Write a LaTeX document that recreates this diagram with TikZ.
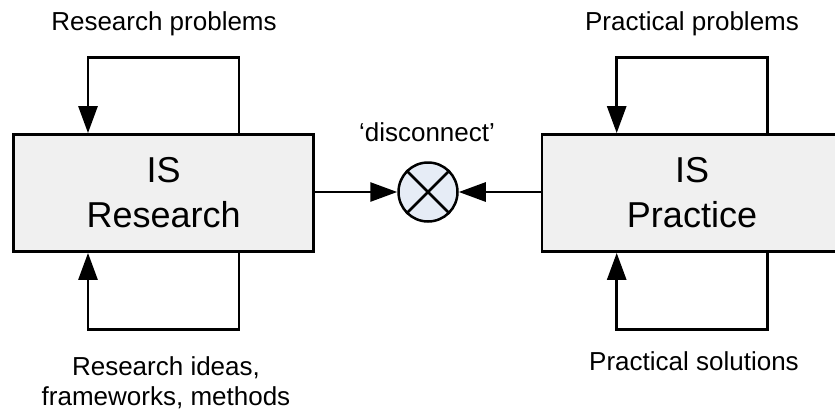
\documentclass[tikz,border=0pt]{standalone}
\usepackage{fontspec}
\setmainfont{Liberation Sans}
\usetikzlibrary{arrows.meta,calc}
\definecolor{boxfill}{HTML}{F0F0F0}
\definecolor{circfill}{HTML}{E6ECF6}
\tikzset{
  isbox/.style={draw=black, fill=boxfill, line width=2.8pt, minimum width=300pt, minimum height=117pt,
    inner sep=0pt, align=center, font=\fontsize{36}{45}\selectfont},
  lbl/.style={inner sep=0pt, anchor=base, font=\fontsize{26}{30}\selectfont},
  conn/.style={line width=2.8pt, line join=miter, -{Triangle[length=27pt,width=19pt]}},
  xcirc/.style={circle, draw=black, fill=circfill, line width=2.5pt, minimum size=59pt, inner sep=0pt},
}
\begin{document}
\begin{tikzpicture}[x=1pt,y=-1pt]
\useasboundingbox (0,0) rectangle (835,410);
\begin{scope}
\clip (0,0) rectangle (835,410);
\node[isbox] (L) at (163.7,193) {IS\\Research};
\node[isbox] (R) at (692,193) {IS\\Practice};
\node[xcirc] (C) at (428,192) {};
\draw[line width=2.5pt] (C.45) -- (C.225) (C.135) -- (C.315);

\coordinate (Ltop) at ($(L.north)+(-75.7,-75.5)$);
\coordinate (Lbot) at ($(L.south)+(-75.7,76.5)$);
\coordinate (Rtop) at ($(R.north)+(-75.3,-75.5)$);
\coordinate (Rbot) at ($(R.south)+(-75.3,76.5)$);

\draw[conn] ($(L.north)+(75.3,0)$) |- (Ltop) -- (L.north -| Ltop);
\draw[conn] ($(L.south)+(75.3,0)$) |- (Lbot) -- (L.south -| Lbot);
\draw[conn] ($(R.north)+(75.7,0)$) |- (Rtop) -- (R.north -| Rtop);
\draw[conn] ($(R.south)+(75.7,0)$) |- (Rbot) -- (R.south -| Rbot);

\draw[conn] (L.east |- C) -- (C.west);
\draw[conn] (R.west |- C) -- (C.east);
\end{scope}

\node[lbl] (t1) at (164,30) {Research problems};
\node[lbl] (t2) at (692,30) {Practical problems};
\node[lbl] (t3) at (427,141.5) {‘disconnect’};
\node[lbl] (b1) at (166,375) {Research ideas,};
\node[lbl] (b2) at (166,405) {frameworks, methods};
\node[lbl] (b3) at (694,370) {Practical solutions};
\end{tikzpicture}
\end{document}
